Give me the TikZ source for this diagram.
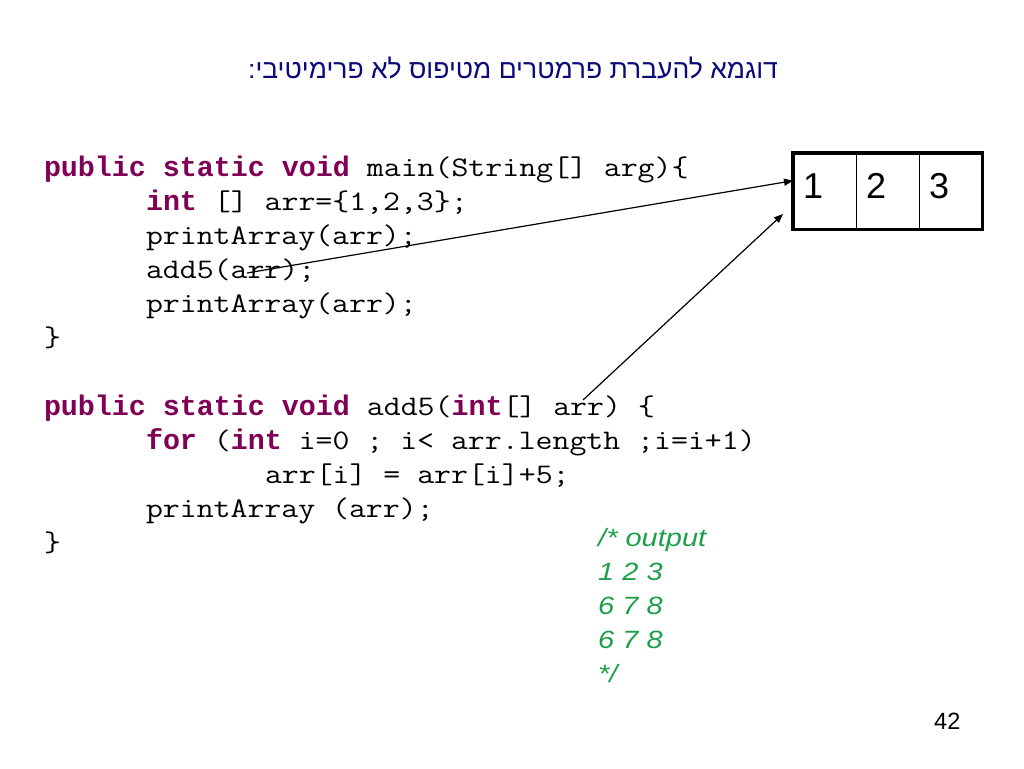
\documentclass[tikz,border=0pt]{standalone}
\usepackage{fontspec}
\setmainfont{Liberation Sans}
\newfontfamily\hebfont[Script=Hebrew]{Liberation Sans}
\newfontfamily\outfont[FakeStretch=1.16]{Liberation Sans}
\newfontfamily\kwfont{Liberation Mono}
\newfontfamily\codefont[FakeStretch=1.16]{Latin Modern Mono}
\TeXXeTstate=1
\usetikzlibrary{arrows.meta}
\definecolor{kwc}{RGB}{127,0,85}
\definecolor{titlec}{RGB}{10,10,120}
\definecolor{outc}{RGB}{30,160,75}
\newcommand\kw[1]{{\kwfont\bfseries\color{kwc}#1}}
\begin{document}
\begin{tikzpicture}[x=1pt,y=-1pt,
  code/.style={anchor=base west,inner sep=0pt,outer sep=0pt,font=\fontsize{28.33}{34}\selectfont\codefont},
  outtxt/.style={anchor=base west,inner sep=0pt,text=outc,font=\fontsize{25}{34}\selectfont\outfont\itshape},
  cell/.style={draw,line width=1.4pt,minimum width=63pt,minimum height=75pt,inner sep=0pt,anchor=north west},
  num/.style={anchor=base west,inner sep=0pt,font=\fontsize{36}{40}\selectfont},
  ptr/.style={line width=1.2pt,-{Triangle[length=9pt,width=7pt]}}]
\useasboundingbox[fill=white] (0,0) rectangle (1024,768);
% title
\node[anchor=base,inner sep=0pt,text=titlec,font=\fontsize{26.5}{30}\selectfont\hebfont] (title) at (513,78)
  {\beginR דוגמא להעברת פרמטרים מטיפוס לא פרימיטיבי:\endR};
% main
\node[code] (l1) at (44,176) {\kw{public static void} main(String[] arg)\{};
\node[code] (l2) at (146,210) {\kw{int} [] arr=\{1,2,3\};};
\node[code] (l3) at (146,244) {printArray(arr);};
\node[code] (l4) at (146,278) {add5(arr);};
\node[code] (l5) at (146,312) {printArray(arr);};
\node[code] (l6) at (44,346) {\}};
% add5
\node[code] (m1) at (44,415) {\kw{public static void} add5(\kw{int}[] arr) \{};
\node[code] (m2) at (146,449) {\kw{for} (\kw{int} i=0 ; i< arr.length ;i=i+1)};
\node[code] (m3) at (265,483) {arr[i] = arr[i]+5;};
\node[code] (m4) at (146,517) {printArray (arr);};
\node[code] (m5) at (44,551) {\}};
% output
\node[outtxt] (o1) at (598,546) {/* output};
\node[outtxt] (o2) at (598,580) {1 2 3};
\node[outtxt] (o3) at (598,614) {6 7 8};
\node[outtxt] (o4) at (598,648) {6 7 8};
\node[outtxt] (o5) at (598,682) {*/};
% array
\node[cell] (c1) at (793,153) {};
\node[cell] (c2) at (856,153) {};
\node[cell,minimum width=62pt] (c3) at (919,153) {};
\draw[line width=3.5pt] (c1.north west) rectangle (c3.south east);
\node[num] (n1) at (803,198) {1};
\node[num] (n2) at (866,198) {2};
\node[num] (n3) at (929,198) {3};
% pointers
\coordinate (s1) at (247,273);
\coordinate (s2) at (583,400);
\coordinate (e2) at (783,214);
\draw[ptr] (s1) -- ([yshift=10.5pt]c1.west);
\draw[ptr] (s2) -- (e2);
% page number
\node[anchor=base west,inner sep=0pt,font=\fontsize{23.5}{28}\selectfont] (pg) at (934,729) {42};
\end{tikzpicture}
\end{document}
